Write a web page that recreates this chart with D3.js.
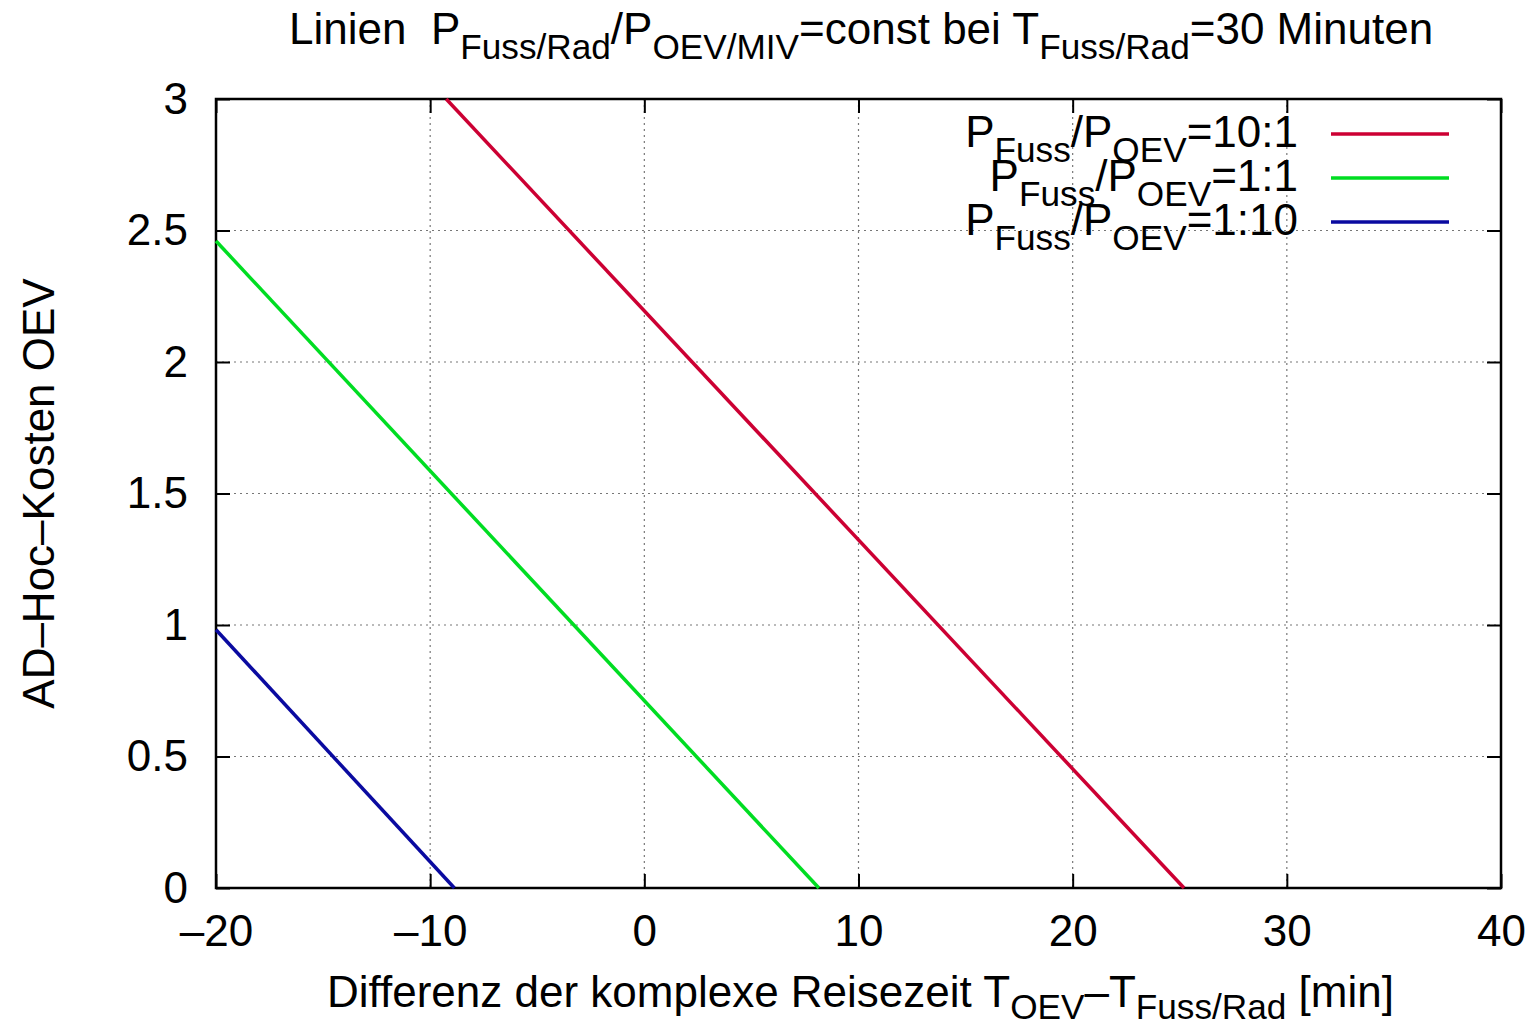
<!DOCTYPE html>
<html><head><meta charset="utf-8">
<script src="https://cdn.jsdelivr.net/npm/d3@7"></script>
<style>
body{margin:0;background:#fff;}
text{font-family:"Liberation Sans",Arial,Helvetica,sans-serif;fill:#000;}
</style></head>
<body>
<svg id="chart" width="1537" height="1023"></svg>
<script>
// Data: each line is straight, endpoints at plot boundaries
const seriesNames = ["10:1", "1:1", "1:10"];
const seriesColors = ["#cc0033", "#00dd22", "#0a0aa0"];
const redX = [-9.25, 25.2];
const redY = [3.0, 0.0];
const greenX = [-20, 8.15];
const greenY = [2.46, 0.0];
const blueX = [-20, -8.87];
const blueY = [0.982, 0.0];
const xTicks = [-20, -10, 0, 10, 20, 30, 40];
const yTicks = [0, 0.5, 1, 1.5, 2, 2.5, 3];
const yTickLabels = ["0", "0.5", "1", "1.5", "2", "2.5", "3"];

const series = [
  {name: seriesNames[0], color: seriesColors[0], xs: redX, ys: redY},
  {name: seriesNames[1], color: seriesColors[1], xs: greenX, ys: greenY},
  {name: seriesNames[2], color: seriesColors[2], xs: blueX, ys: blueY}
];

const svg = d3.select("#chart");
const L = 216, R = 1501, T = 99, B = 888;
const x = d3.scaleLinear().domain([-20, 40]).range([L, R]);
const y = d3.scaleLinear().domain([0, 3]).range([B, T]);
const FS = 44;

// grid
const grid = svg.append("g");
xTicks.slice(1, -1).forEach(v => {
  grid.append("line").attr("x1", x(v)).attr("x2", x(v)).attr("y1", T).attr("y2", B)
    .attr("stroke", "#777").attr("stroke-width", 1.2).attr("stroke-dasharray", "2,4");
});
yTicks.slice(1, -1).forEach(v => {
  grid.append("line").attr("x1", L).attr("x2", R).attr("y1", y(v)).attr("y2", y(v))
    .attr("stroke", "#777").attr("stroke-width", 1.2).attr("stroke-dasharray", "2,4");
});

// axes with inward ticks (mirrored)
const tickLen = 14;
const fmtX = d => (d < 0 ? "\u2013" + Math.abs(d) : String(d));
const xAxisB = d3.axisBottom(x).tickValues(xTicks).tickSize(-tickLen).tickPadding(tickLen + 13).tickFormat(fmtX);
const xAxisT = d3.axisTop(x).tickValues(xTicks).tickSize(-tickLen).tickFormat("");
const yAxisL = d3.axisLeft(y).tickValues(yTicks).tickSize(-tickLen).tickPadding(tickLen + 14).tickFormat((d, i) => yTickLabels[i]);
const yAxisR = d3.axisRight(y).tickValues(yTicks).tickSize(-tickLen).tickFormat("");

function styleAxis(g) {
  g.select(".domain").remove();
  g.selectAll(".tick line").attr("stroke", "#000").attr("stroke-width", 2);
  g.selectAll(".tick text").attr("font-size", FS).attr("font-family", "Liberation Sans, Arial, sans-serif").attr("fill", "#000");
}
svg.append("g").attr("transform", `translate(0,${B})`).call(xAxisB).call(styleAxis);
svg.append("g").attr("transform", `translate(0,${T})`).call(xAxisT).call(styleAxis);
svg.append("g").attr("transform", `translate(${L},0)`).call(yAxisL).call(styleAxis);
svg.append("g").attr("transform", `translate(${R},0)`).call(yAxisR).call(styleAxis);

// border
svg.append("rect").attr("x", L).attr("y", T).attr("width", R - L).attr("height", B - T)
  .attr("fill", "none").attr("stroke", "#000").attr("stroke-width", 2.5);

// lines
const line = d3.line().x(d => x(d[0])).y(d => y(d[1]));
series.forEach(s => {
  const pts = s.xs.map((v, i) => [v, s.ys[i]]);
  svg.append("path").attr("d", line(pts)).attr("fill", "none")
    .attr("stroke", s.color).attr("stroke-width", 3.5);
});

// rich text with subscripts
function richText(parent, segs, fs, shift) {
  let inSub = false;
  const sh = shift || 0.33;
  segs.forEach(([txt, sub]) => {
    const ts = parent.append("tspan").text(txt).attr("font-size", sub ? fs * 0.8 : fs);
    if (sub && !inSub) { ts.attr("dy", fs * sh); inSub = true; }
    else if (!sub && inSub) { ts.attr("dy", -fs * sh); inSub = false; }
  });
}

// title
const title = svg.append("text").attr("x", 289).attr("y", 44);
richText(title, [["Linien\u00a0\u00a0P", false], ["Fuss/Rad", true], ["/P", false], ["OEV/MIV", true],
  ["=const bei T", false], ["Fuss/Rad", true], ["=30 Minuten", false]], FS);

// x label
const xl = svg.append("text").attr("x", 327).attr("y", 1007);
richText(xl, [["Differenz der komplexe Reisezeit T", false], ["OEV", true], ["\u2013T", false], ["Fuss/Rad", true], [" [min]", false]], FS, 0.28);

// y label
svg.append("text").attr("transform", `translate(54,${(T + B) / 2}) rotate(-90)`)
  .attr("text-anchor", "middle").attr("font-size", FS).text("AD\u2013Hoc\u2013Kosten OEV");

// legend
const legY = [134, 178, 222];
series.forEach((s, i) => {
  const t = svg.append("text").attr("x", 1298).attr("y", legY[i] + 13).attr("text-anchor", "end");
  richText(t, [["P", false], ["Fuss", true], ["/P", false], ["OEV", true], ["=" + s.name, false]], FS);
  svg.append("line").attr("x1", 1331).attr("x2", 1449).attr("y1", legY[i]).attr("y2", legY[i])
    .attr("stroke", s.color).attr("stroke-width", 3.5);
});
</script>
</body></html>
